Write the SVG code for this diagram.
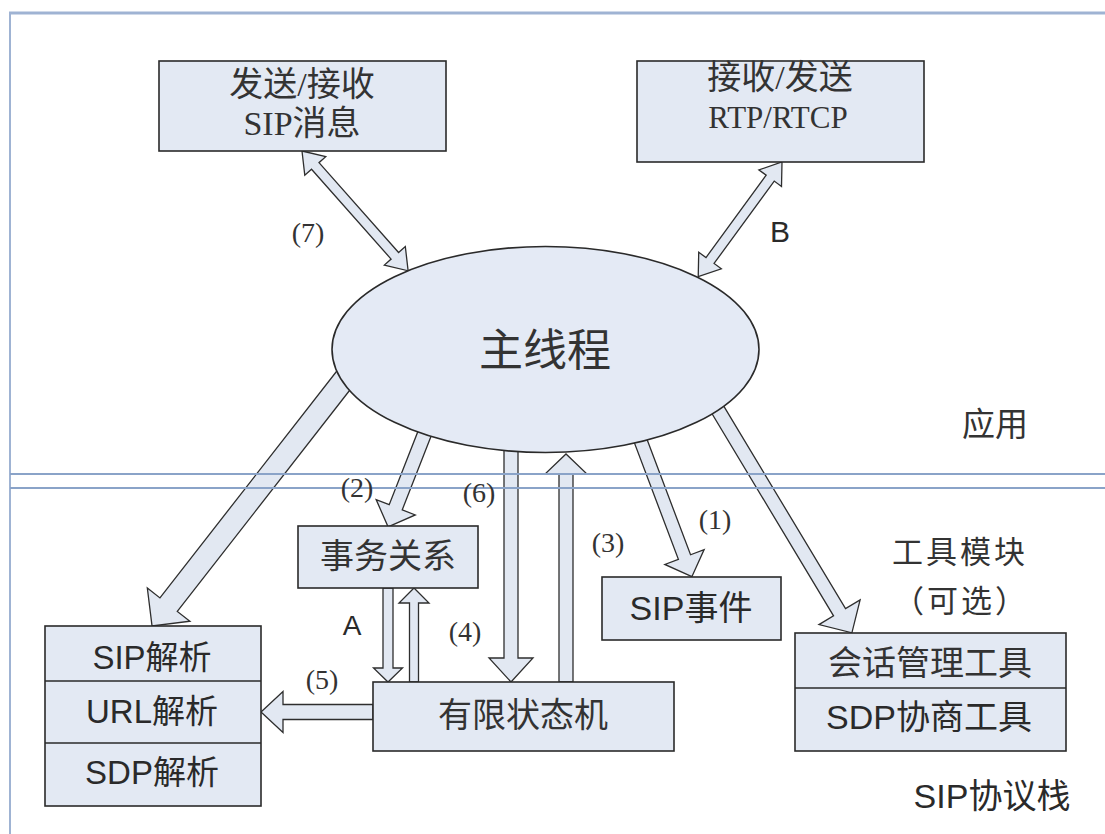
<svg xmlns="http://www.w3.org/2000/svg" width="1105" height="834" viewBox="0 0 1105 834">
<style>
.box{fill:#e3e9f3;stroke:#2a2a2a;stroke-width:1.6}
.arr{fill:#e2e8f2;stroke:#2e2e2e;stroke-width:1.3;stroke-linejoin:miter}
.frame{stroke:#9fb3d3;stroke-width:3;fill:none}
.sep{stroke:#8aa3c8;stroke-width:2;fill:none}
.cjk{font-family:"Noto Sans CJK SC","Liberation Sans",sans-serif;fill:#333;text-anchor:middle}
.sans{font-family:"Liberation Sans","Noto Sans CJK SC",sans-serif;fill:#2a2a2a;text-anchor:middle}
.serif{font-family:"Liberation Serif","Noto Sans CJK SC",serif;fill:#333;text-anchor:middle}
</style>
<rect x="0" y="0" width="1105" height="834" fill="#ffffff"/>

<g id="connectors">
  <path class="arr" transform="translate(302,151) rotate(48.46)" d="M0,0 L20,-14 V-5 H140 V-14 L160,0 L140,14 V5 H20 V14 Z"/>
  <path class="arr" transform="translate(782,162) rotate(126.15)" d="M0,0 L20,-14 V-5 H122 V-14 L142,0 L122,14 V5 H20 V14 Z"/>
  <path class="arr" transform="translate(350,372) rotate(127.94)" d="M0,-11 H295 V-27 L322,0 L295,27 V11 H0 Z"/>
  <path class="arr" transform="translate(426,430) rotate(111.39)" d="M0,-7 H83 V-21 L104,0 L83,21 V7 H0 Z"/>
  <path class="arr" transform="translate(511,440) rotate(90)" d="M0,-7 H218 V-22 L242,0 L218,22 V7 H0 Z"/>
  <path class="arr" transform="translate(566,682) rotate(-90)" d="M0,-7 H208 V-21 L228,0 L208,21 V7 H0 Z"/>
  <path class="arr" transform="translate(637.5,432.6) rotate(69.32)" d="M0,-6.5 H133 V-21 L154,0 L133,21 V6.5 H0 Z"/>
  <path class="arr" transform="translate(712.8,401.4) rotate(58.99)" d="M0,-7 H246 V-24 L270,0 L246,24 V7 H0 Z"/>
  <path class="arr" transform="translate(388,588) rotate(90)" d="M0,-5 H80 V-14.5 L94,0 L80,14.5 V5 H0 Z"/>
  <path class="arr" transform="translate(414,682) rotate(-90)" d="M0,-4.5 H79 V-15 L94,0 L79,15 V4.5 H0 Z"/>
  <path class="arr" transform="translate(373,712) rotate(180)" d="M0,-7.5 H90 V-20.5 L112,0 L90,20.5 V7.5 H0 Z"/>
</g>

<g id="frame">
  <line class="frame" x1="9" y1="13" x2="1105" y2="13"/>
  <line class="frame" x1="10" y1="12" x2="10" y2="834" style="stroke-width:2"/>
  <line class="sep" x1="10" y1="474" x2="1105" y2="474"/>
  <line class="sep" x1="10" y1="488" x2="1105" y2="488"/>
</g>

<g id="node-sendsip">
  <rect class="box" x="159" y="61" width="287" height="90"/>
  <text class="serif" x="302" y="96" font-size="34">发送/接收</text>
  <text class="serif" x="302" y="135" font-size="34">SIP消息</text>
</g>

<g id="node-rtp">
  <rect class="box" x="637" y="61" width="287" height="101"/>
  <text class="serif" x="780" y="89" font-size="34">接收/发送</text>
  <text class="serif" x="778" y="128" font-size="31">RTP/RTCP</text>
</g>

<g id="node-main">
  <ellipse cx="545.5" cy="349.5" rx="213.5" ry="103" fill="#e4eaf5" stroke="#2a2a2a" stroke-width="1.6"/>
  <text class="cjk" x="545" y="366" font-size="44">主线程</text>
</g>

<g id="node-transaction">
  <rect class="box" x="298" y="526" width="180" height="62"/>
  <text class="cjk" x="388" y="568" font-size="34">事务关系</text>
</g>

<g id="node-sipevent">
  <rect class="box" x="602" y="577" width="179" height="63"/>
  <text class="sans" x="691" y="620" font-size="34">SIP事件</text>
</g>

<g id="node-fsm">
  <rect class="box" x="373" y="682" width="301" height="69"/>
  <text class="cjk" x="523" y="727" font-size="34">有限状态机</text>
</g>

<g id="node-parsers">
  <rect class="box" x="45" y="626" width="216" height="180"/>
  <line x1="45" y1="681" x2="261" y2="681" stroke="#2a2a2a" stroke-width="1.6"/>
  <line x1="45" y1="743" x2="261" y2="743" stroke="#2a2a2a" stroke-width="1.6"/>
  <text class="sans" x="152" y="669" font-size="33">SIP解析</text>
  <text class="sans" x="152" y="723" font-size="33">URL解析</text>
  <text class="sans" x="152" y="784" font-size="33">SDP解析</text>
</g>

<g id="node-tools">
  <rect class="box" x="795" y="633" width="271" height="118"/>
  <line x1="795" y1="688" x2="1066" y2="688" stroke="#2a2a2a" stroke-width="1.6"/>
  <text class="cjk" x="930" y="675" font-size="34">会话管理工具</text>
  <text class="sans" x="929" y="729" font-size="34">SDP协商工具</text>
</g>

<g id="labels">
  <text class="serif" x="308" y="242" font-size="28">(7)</text>
  <text class="sans" x="780" y="242" font-size="30">B</text>
  <text class="serif" x="357" y="497" font-size="28">(2)</text>
  <text class="serif" x="479" y="502" font-size="28">(6)</text>
  <text class="sans" x="352" y="635" font-size="28">A</text>
  <text class="serif" x="465" y="641" font-size="28">(4)</text>
  <text class="serif" x="322" y="689" font-size="28">(5)</text>
  <text class="serif" x="608" y="552" font-size="28">(3)</text>
  <text class="serif" x="715" y="529" font-size="28">(1)</text>
  <text class="cjk" x="995" y="436" font-size="33">应用</text>
  <text class="cjk" x="960" y="563" font-size="31" letter-spacing="3">工具模块</text>
  <text class="cjk" x="961" y="612" font-size="31" letter-spacing="3">（可选）</text>
  <text class="sans" x="992" y="808" font-size="34">SIP协议栈</text>
</g>
</svg>
